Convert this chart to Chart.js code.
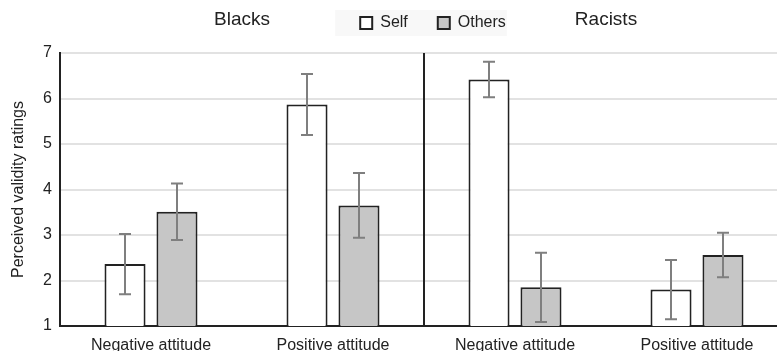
<!DOCTYPE html>
<html>
<head>
<meta charset="utf-8">
<script src="https://cdn.jsdelivr.net/npm/chart.js@4.4.1/dist/chart.umd.min.js"></script>
<style>
  html, body { margin: 0; padding: 0; background: #ffffff; overflow: hidden; }
  #wrap { width: 790px; height: 351px; position: relative; }
</style>
</head>
<body>
<div id="wrap"><canvas id="chart"></canvas></div>
<script>
// Target groups (each spans two attitude categories)
const groups = ['Blacks', 'Racists'];
// Attitude categories along the x axis
const categories = ['Negative attitude', 'Positive attitude', 'Negative attitude', 'Positive attitude'];
// Mean ratings
const selfMeans = [2.36, 5.87, 6.42, 1.80];
const othersMeans = [3.51, 3.65, 1.85, 2.56];
// Error bar half-lengths
const selfErr = [0.66, 0.67, 0.39, 0.65];
const othersErr = [0.62, 0.71, 0.76, 0.49];
// Y axis ticks
const yTicks = [1, 2, 3, 4, 5, 6, 7];

const INK = '#222222';
const FONT = "'Liberation Sans', Arial, sans-serif";
const LEGEND_ROW_Y = 23;     // vertical centre of the legend row
const LEGEND_PAD = 30;       // spacing between legend items
const LEGEND_HEIGHT = 36;    // room reserved for the header row
const LEGEND_FONT = 16;

// Legend: wide item spacing, compact height, row sharing the header line with the group titles
const legendLayout = {
  id: 'legendLayout',
  afterInit(chart) {
    const lg = chart.legend;
    const fit = lg.fit.bind(lg);
    lg.fit = function () { fit(); this.height = LEGEND_HEIGHT; };
  },
  afterLayout(chart) {
    const lg = chart.legend;
    lg.top = LEGEND_ROW_Y - LEGEND_PAD - LEGEND_FONT / 2;
    lg.bottom = lg.top + 2 * LEGEND_PAD + LEGEND_FONT;
    lg.left += 9;
    lg.right += 9;
  },
  beforeDraw(chart) {
    // faint panel behind the legend
    const boxes = chart.legend && chart.legend.legendHitBoxes;
    if (!boxes || !boxes.length) return;
    const l = Math.min(...boxes.map(b => b.left)) - 25;
    const r = Math.max(...boxes.map(b => b.left + b.width)) + 1;
    const ctx = chart.ctx;
    ctx.save();
    ctx.fillStyle = '#f8f8f8';
    ctx.fillRect(l, LEGEND_ROW_Y - 13, r - l, 26);
    ctx.restore();
  }
};

// Error bars, group divider and group titles
const extrasPlugin = {
  id: 'extras',
  afterDatasetsDraw(chart) {
    const ctx = chart.ctx;
    const x = chart.scales.x, y = chart.scales.y;
    const area = chart.chartArea;
    const errs = [selfErr, othersErr];
    ctx.save();
    // divider between the two target groups
    const divX = (x.getPixelForValue(1) + x.getPixelForValue(2)) / 2;
    ctx.strokeStyle = INK;
    ctx.lineWidth = 2;
    ctx.beginPath();
    ctx.moveTo(Math.round(divX), area.top);
    ctx.lineTo(Math.round(divX), area.bottom);
    ctx.stroke();
    // error bars
    ctx.strokeStyle = '#7f7f7f';
    ctx.lineWidth = 2;
    chart.data.datasets.forEach((ds, di) => {
      const meta = chart.getDatasetMeta(di);
      meta.data.forEach((bar, i) => {
        const v = ds.data[i], e = errs[di][i];
        const cx = Math.round(bar.x);
        const yHi = y.getPixelForValue(v + e);
        const yLo = y.getPixelForValue(v - e);
        ctx.beginPath();
        ctx.moveTo(cx, yHi); ctx.lineTo(cx, yLo);
        ctx.moveTo(cx - 6, yHi); ctx.lineTo(cx + 6, yHi);
        ctx.moveTo(cx - 6, yLo); ctx.lineTo(cx + 6, yLo);
        ctx.stroke();
      });
    });
    // group titles
    ctx.fillStyle = INK;
    ctx.font = '19px ' + FONT;
    ctx.textAlign = 'center';
    ctx.textBaseline = 'middle';
    groups.forEach((g, gi) => {
      const gx = (x.getPixelForValue(gi * 2) + x.getPixelForValue(gi * 2 + 1)) / 2;
      ctx.fillText(g, gx, 20);
    });
    ctx.restore();
  }
};

new Chart(document.getElementById('chart'), {
  type: 'bar',
  data: {
    labels: categories,
    datasets: [
      {
        label: 'Self',
        data: selfMeans,
        backgroundColor: '#ffffff',
        borderColor: INK,
        borderWidth: 2,
        categoryPercentage: 0.571,
        barPercentage: 0.79
      },
      {
        label: 'Others',
        data: othersMeans,
        backgroundColor: '#c6c6c6',
        borderColor: INK,
        borderWidth: 2,
        categoryPercentage: 0.571,
        barPercentage: 0.79
      }
    ]
  },
  options: {
    responsive: true,
    maintainAspectRatio: false,
    animation: false,
    devicePixelRatio: 1,
    layout: { padding: { top: 17, right: 2, left: 0, bottom: 0 } },
    plugins: {
      tooltip: { enabled: false },
      legend: {
        display: true,
        position: 'top',
        align: 'center',
        fullSize: false,
        labels: {
          boxWidth: 12,
          boxHeight: 12,
          padding: LEGEND_PAD,
          color: INK,
          font: { family: FONT, size: LEGEND_FONT }
        }
      }
    },
    scales: {
      x: {
        grid: { display: false },
        border: { display: true, color: INK, width: 2 },
        ticks: { color: INK, font: { family: FONT, size: 16 }, padding: 2, maxRotation: 0, autoSkip: false },
        afterFit(scale) { scale.height = 25; }
      },
      y: {
        min: yTicks[0],
        max: yTicks[yTicks.length - 1],
        afterBuildTicks(scale) { scale.ticks = yTicks.map(v => ({ value: v })); },
        grid: { color: '#e2e2e2', lineWidth: 2, drawTicks: false },
        border: { display: true, color: INK, width: 2 },
        ticks: { color: INK, font: { family: FONT, size: 16 }, padding: 8 },
        title: {
          display: true,
          text: 'Perceived validity ratings',
          color: INK,
          font: { family: FONT, size: 16 },
          padding: { top: 9, bottom: 0 }
        },
        afterFit(scale) { scale.width = 60; }
      }
    }
  },
  plugins: [legendLayout, extrasPlugin]
});
</script>
</body>
</html>
